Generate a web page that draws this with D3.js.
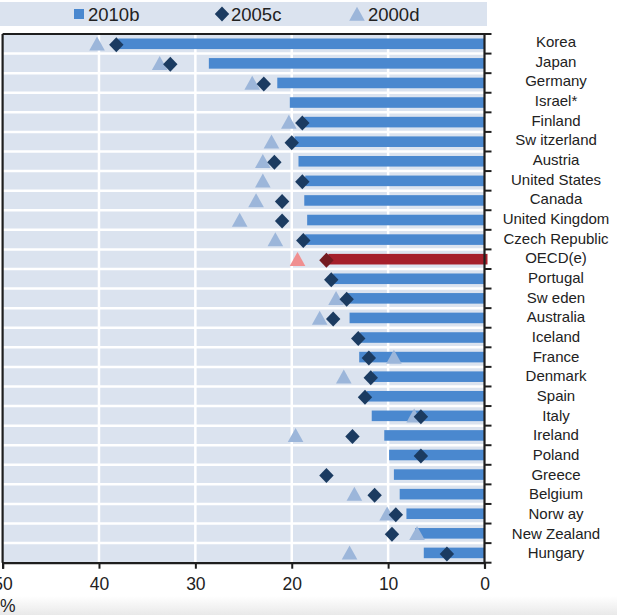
<!DOCTYPE html>
<html>
<head>
<meta charset="utf-8">
<script src="https://cdn.jsdelivr.net/npm/d3@7"></script>
<style>
  html, body { margin: 0; padding: 0; background: #fff; }
  svg { display: block; }
  text { font-family: "Liberation Sans", Arial, sans-serif; fill: #222; }
</style>
</head>
<body>
<svg id="chart" width="617" height="615"></svg>
<script>
// ---- data ----
const countries = ["Korea","Japan","Germany","Israel*","Finland","Sw itzerland","Austria","United States","Canada","United Kingdom","Czech Republic","OECD(e)","Portugal","Sw eden","Australia","Iceland","France","Denmark","Spain","Italy","Ireland","Poland","Greece","Belgium","Norw ay","New  Zealand","Hungary"];
const values2010 = [38.0, 28.6, 21.5, 20.2, 18.7, 19.7, 19.3, 18.6, 18.7, 18.4, 18.6, 16.2, 15.7, 14.2, 14.0, 12.9, 13.0, 11.6, 12.2, 11.7, 10.4, 9.9, 9.4, 8.8, 8.1, 7.2, 6.3];
const values2005 = [38.2, 32.6, 22.9, null, 18.9, 20.0, 21.8, 18.9, 21.0, 21.0, 18.8, 16.4, 15.9, 14.3, 15.7, 13.1, 12.0, 11.8, 12.4, 6.6, 13.7, 6.6, 16.4, 11.4, 9.2, 9.6, 3.9];
const values2000 = [40.2, 33.7, 24.1, null, 20.3, 22.1, 23.0, 23.0, 23.7, 25.4, 21.7, 19.4, null, 15.4, 17.1, null, 9.4, 14.6, null, 7.3, 19.6, null, null, 13.5, 10.1, 7.0, 14.0];
const highlight = "OECD(e)";
const xTicks = [0, 10, 20, 30, 40, 50];
const legendLabels = ["2010b", "2005c", "2000d"];

// ---- layout ----
const svg = d3.select("#chart");
const pLeft = 2.6, pRight = 484.5, pTop = 34, pBottom = 562.7;

const COL = {
  bg: "#dbe3ef", bar: "#4a88cf", dia: "#1b3b61", tri: "#9cb6da",
  barH: "#a51f2b", diaH: "#741a20", triH: "#f08f90", axis: "#1e1e1e"
};

// bottom fade (as in the reference frame)
const defs = svg.append("defs");
const grad = defs.append("linearGradient").attr("id", "fade").attr("x1", 0).attr("x2", 0).attr("y1", 0).attr("y2", 1);
grad.append("stop").attr("offset", 0).attr("stop-color", "#ffffff");
grad.append("stop").attr("offset", 1).attr("stop-color", "#e9e9e9");
svg.append("rect").attr("x", 0).attr("y", 596).attr("width", 617).attr("height", 19).attr("fill", "url(#fade)");

const x = d3.scaleLinear().domain([0, 50]).range([pRight, pLeft]);
const y = d3.scaleBand().domain(countries).range([pTop, pBottom]).padding(0);
const bw = y.bandwidth();

// legend band
svg.append("rect").attr("x", 0).attr("y", 2).attr("width", 487).attr("height", 24).attr("fill", COL.bg);

// plot background
svg.append("rect").attr("x", pLeft).attr("y", pTop).attr("width", pRight - pLeft).attr("height", pBottom - pTop).attr("fill", COL.bg);

// vertical white gridlines
svg.append("g").selectAll("line").data(xTicks.filter(d => d > 0 && d < 50)).join("line")
  .attr("x1", d => x(d)).attr("x2", d => x(d)).attr("y1", pTop).attr("y2", pBottom)
  .attr("stroke", "#fff").attr("stroke-width", 2.5);

// horizontal white separators
svg.append("g").selectAll("line").data(countries.slice(1)).join("line")
  .attr("x1", pLeft).attr("x2", pRight).attr("y1", d => y(d)).attr("y2", d => y(d))
  .attr("stroke", "#fff").attr("stroke-width", 2.5);

// bars
const barH = bw * 0.54;
svg.append("g").selectAll("rect").data(countries).join("rect")
  .attr("x", (d, i) => x(values2010[i]))
  .attr("y", d => y(d) + (bw - barH) / 2)
  .attr("width", (d, i) => x(0) - x(values2010[i]) + (d === highlight ? 3 : 0))
  .attr("height", barH)
  .attr("fill", d => d === highlight ? COL.barH : COL.bar);

// triangles (2000)
const triPath = "M0,-7.8L7.8,6.2L-7.8,6.2Z";
svg.append("g").selectAll("path").data(countries.map((c, i) => ({c, v: values2000[i]})).filter(d => d.v != null)).join("path")
  .attr("d", triPath)
  .attr("transform", d => `translate(${x(d.v)},${y(d.c) + bw / 2 + 0.5})`)
  .attr("fill", d => d.c === highlight ? COL.triH : COL.tri);

// diamonds (2005)
const diaPath = "M0,-7.5L7.2,0L0,7.5L-7.2,0Z";
svg.append("g").selectAll("path").data(countries.map((c, i) => ({c, v: values2005[i]})).filter(d => d.v != null)).join("path")
  .attr("d", diaPath)
  .attr("transform", d => `translate(${x(d.v)},${y(d.c) + bw / 2 + 1})`)
  .attr("fill", d => d.c === highlight ? COL.diaH : COL.dia);

// frame: top and left border
svg.append("line").attr("x1", pLeft).attr("x2", pRight).attr("y1", pTop).attr("y2", pTop).attr("stroke", COL.axis).attr("stroke-width", 2.2);
svg.append("line").attr("x1", pLeft).attr("x2", pLeft).attr("y1", pTop).attr("y2", pBottom).attr("stroke", COL.axis).attr("stroke-width", 2.2);

// right axis (ticks at band boundaries)
const bounds = countries.map(c => y(c)).concat([pBottom]);
svg.append("line").attr("x1", pRight).attr("x2", pRight).attr("y1", pTop - 1).attr("y2", pBottom + 1).attr("stroke", COL.axis).attr("stroke-width", 2.2);
svg.append("g").selectAll("line").data(bounds).join("line")
  .attr("x1", pRight).attr("x2", pRight + 7).attr("y1", d => d).attr("y2", d => d)
  .attr("stroke", COL.axis).attr("stroke-width", 2);

// bottom axis
const xAxis = svg.append("g").attr("transform", `translate(0,${pBottom})`)
  .call(d3.axisBottom(x).tickValues(xTicks).tickSize(6).tickPadding(9).tickFormat(d3.format("d")));
xAxis.select(".domain").attr("stroke", COL.axis).attr("stroke-width", 2.2);
xAxis.selectAll(".tick line").attr("stroke", COL.axis).attr("stroke-width", 2);
xAxis.selectAll(".tick text").attr("font-family", "Liberation Sans, Arial, sans-serif").attr("font-size", 17.5).attr("fill", "#333");

svg.append("text").attr("x", 0).attr("y", 612).attr("font-size", 17.5).attr("fill", "#333").text("%");

// country labels
svg.append("g").selectAll("text").data(countries).join("text")
  .attr("x", 556)
  .attr("y", (d, i) => y(d) + bw / 2 - 2 + i * 0.08)
  .attr("dy", "0.35em")
  .attr("text-anchor", "middle")
  .attr("font-size", 15)
  .attr("fill", "#222")
  .text(d => d);

// legend
const lg = svg.append("g");
const legendX = [74, 217, 357];
lg.append("rect").attr("x", legendX[0]).attr("y", 9).attr("width", 10).attr("height", 10).attr("fill", COL.bar);
lg.append("path").attr("d", diaPath).attr("transform", `translate(${legendX[1] + 5},14)`).attr("fill", COL.dia);
lg.append("path").attr("d", triPath).attr("transform", `translate(${legendX[2]},14.5)`).attr("fill", COL.tri);
lg.selectAll("text.lab").data(legendLabels).join("text")
  .attr("class", "lab")
  .attr("x", (d, i) => [88, 231, 368][i])
  .attr("y", 21)
  .attr("font-size", 18.5)
  .attr("fill", "#2a2a2a")
  .text(d => d);
</script>
</body>
</html>
